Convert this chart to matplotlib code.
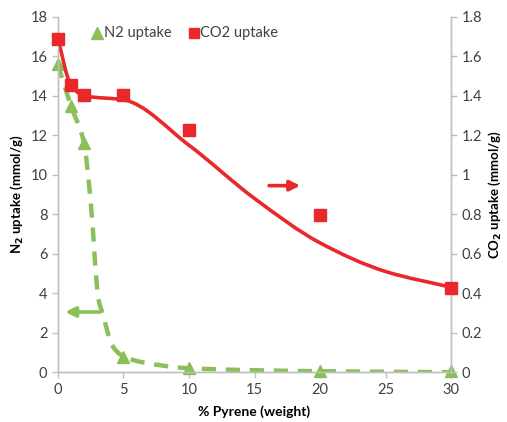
import numpy as np
import matplotlib
matplotlib.use('Agg')
import matplotlib.pyplot as plt
from matplotlib.path import Path
from matplotlib.patches import PathPatch

plt.rcParams['font.family'] = ['Lato', 'DejaVu Sans']

# measured points
pyrene = [0, 1, 2, 5, 10, 20, 30]
n2_uptake = [15.6, 13.5, 11.6, 0.75, 0.22, 0.05, 0.05]        # mmol/g
co2_uptake = [1.69, 1.455, 1.405, 1.405, 1.225, 0.795, 0.425]  # mmol/g

# guide points of the drawn trend curves
n2_fit_x = [0, 1, 2, 2.5, 3.1, 3.4, 4.2, 5.0, 6.5, 10, 20, 30]
n2_fit_y = [15.6, 13.5, 11.6, 8.7, 3.7, 3.0, 1.3, 0.8, 0.5, 0.2, 0.05, 0.0]
co2_fit_x = [0, 1, 2, 5, 10, 15, 20, 25, 30]
co2_fit_y = [1.69, 1.455, 1.40, 1.38, 1.15, 0.88, 0.655, 0.51, 0.43]

red = '#E8282B'
green = '#8CBF5A'
grey = '#BFBFBF'
txt = '#404040'


def smooth_path(xs, ys):
    # monotone cubic (Fritsch-Carlson) written as bezier segments
    x = np.asarray(xs, float)
    y = np.asarray(ys, float)
    h = np.diff(x)
    d = np.diff(y) / h
    m = np.zeros_like(x)
    m[0], m[-1] = d[0], d[-1]
    for i in range(1, len(x) - 1):
        if d[i - 1] * d[i] <= 0:
            m[i] = 0
        else:
            w1 = 2 * h[i] + h[i - 1]
            w2 = h[i] + 2 * h[i - 1]
            m[i] = (w1 + w2) / (w1 / d[i - 1] + w2 / d[i])
    verts = [(x[0], y[0])]
    codes = [Path.MOVETO]
    for i in range(len(x) - 1):
        verts += [(x[i] + h[i] / 3, y[i] + m[i] * h[i] / 3),
                  (x[i + 1] - h[i] / 3, y[i + 1] - m[i + 1] * h[i] / 3),
                  (x[i + 1], y[i + 1])]
        codes += [Path.CURVE4] * 3
    return Path(verts, codes)


fig = plt.figure(figsize=(5.07, 4.22), dpi=100)
ax1 = fig.add_axes([0.114, 0.118, 0.776, 0.842])
ax2 = ax1.twinx()

ax1.set_xlim(0, 30)
ax1.set_ylim(0, 18)
ax2.set_ylim(0, 1.8)

ax1.add_patch(PathPatch(smooth_path(n2_fit_x, n2_fit_y), fill=False, edgecolor=green,
                        lw=3.2, linestyle=(0, (3.2, 2.2)), capstyle='butt', zorder=2))
ax2.add_patch(PathPatch(smooth_path(co2_fit_x, co2_fit_y), fill=False, edgecolor=red,
                        lw=2.6, zorder=2))

ax1.plot(pyrene, n2_uptake, linestyle='none', marker='^', ms=9, color=green,
         markeredgecolor=green, clip_on=False, zorder=3)
ax2.plot(pyrene, co2_uptake, linestyle='none', marker='s', ms=8, color=red,
         markeredgecolor=red, clip_on=False, zorder=3)

# arrows pointing to the matching axis
ax1.annotate('', xy=(0.35, 3.05), xytext=(3.45, 3.05),
             arrowprops=dict(arrowstyle='-|>,head_length=0.6,head_width=0.3', color=green, lw=2.6))
ax2.annotate('', xy=(18.7, 0.945), xytext=(15.9, 0.945),
             arrowprops=dict(arrowstyle='-|>,head_length=0.6,head_width=0.3', color=red, lw=2.6))

# legend
ax1.plot([3.0], [17.2], marker='^', ms=8.5, color=green, linestyle='none', clip_on=False)
ax1.text(3.5, 17.2, 'N2 uptake', fontsize=10.5, color=txt, va='center')
ax1.plot([10.35], [17.2], marker='s', ms=7.5, color=red, linestyle='none', clip_on=False)
ax1.text(10.85, 17.2, 'CO2 uptake', fontsize=10.5, color=txt, va='center')

for ax in (ax1, ax2):
    ax.spines['top'].set_visible(False)
    for s in ('left', 'right', 'bottom'):
        ax.spines[s].set_color(grey)
        ax.spines[s].set_linewidth(1.0)
    ax.tick_params(colors=grey, labelcolor=txt, labelsize=10.5, length=4, width=1)

ax1.set_xticks([0, 5, 10, 15, 20, 25, 30])
ax1.set_yticks(range(0, 19, 2))
ax2.set_yticks([0, 0.2, 0.4, 0.6, 0.8, 1, 1.2, 1.4, 1.6, 1.8])
ax2.set_yticklabels(['0', '0.2', '0.4', '0.6', '0.8', '1', '1.2', '1.4', '1.6', '1.8'])

ax1.set_xlabel('% Pyrene (weight)', fontsize=10, fontweight='bold', color='black', labelpad=6)
ax1.set_ylabel('N$_\\mathbf{2}$ uptake (mmol/g)', fontsize=9.5, fontweight='bold', color='black', labelpad=4)
ax2.set_ylabel('CO$_\\mathbf{2}$ uptake (mmol/g)', fontsize=9.5, fontweight='bold', color='black', labelpad=3)

fig.savefig('out.png', dpi=100)
